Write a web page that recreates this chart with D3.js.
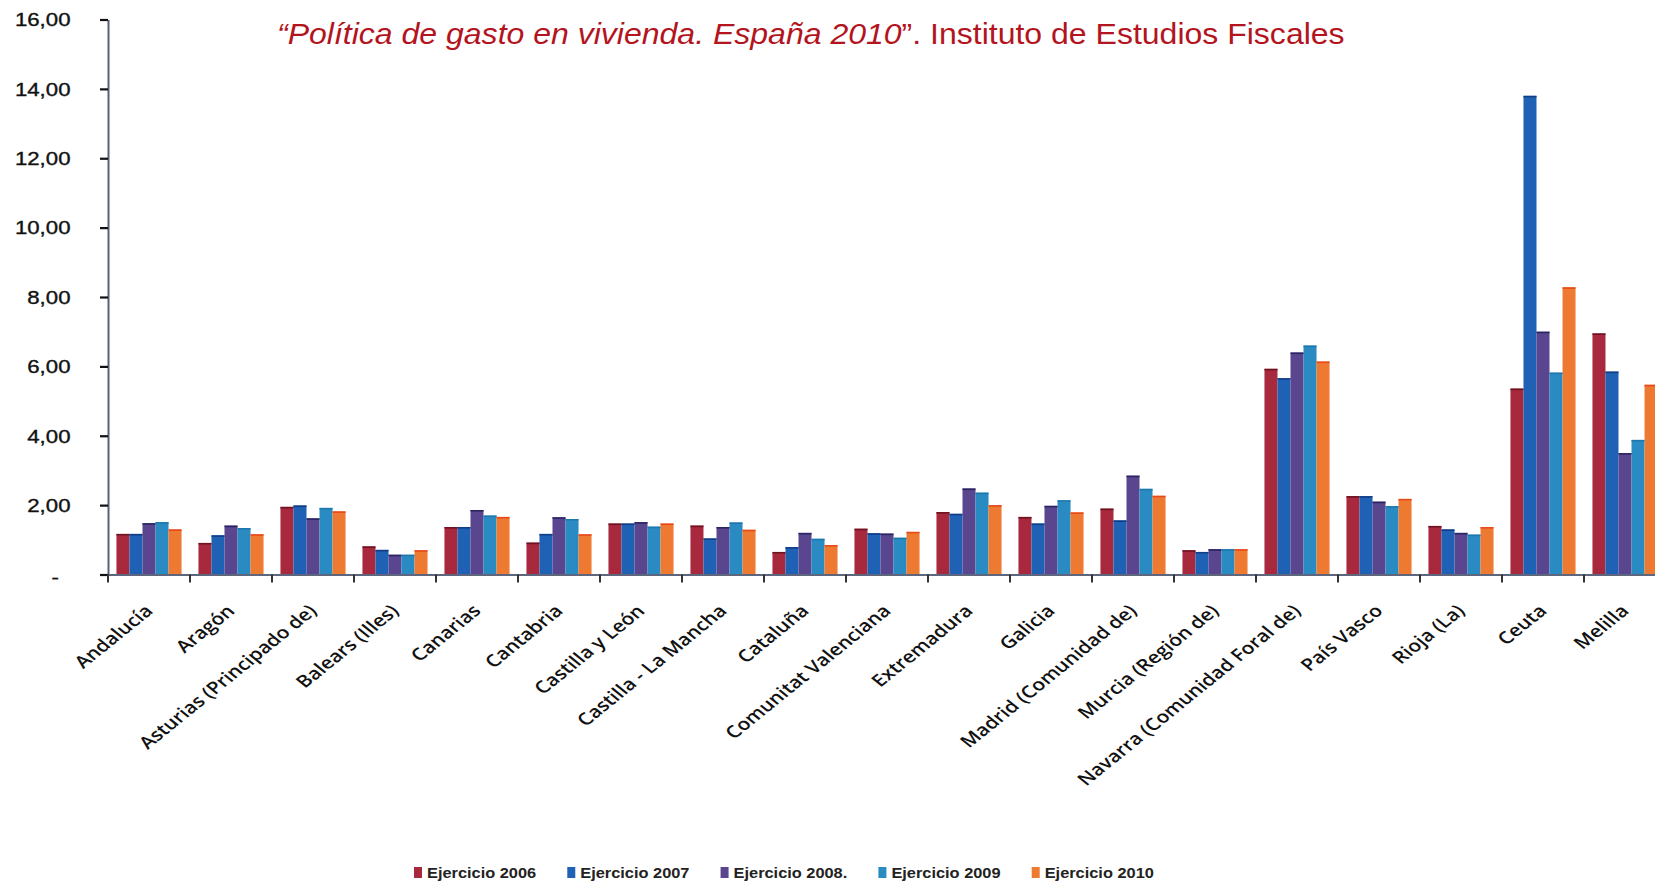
<!DOCTYPE html>
<html>
<head>
<meta charset="utf-8">
<script src="https://cdn.jsdelivr.net/npm/d3@7"></script>
<style>
  html, body { margin: 0; padding: 0; background: #ffffff; }
  svg { display: block; }
</style>
</head>
<body>
<svg id="chart" width="1655" height="883"></svg>
<script>
// ---------- data ----------
const categories = ["Andalucía","Aragón","Asturias (Principado de)","Balears (Illes)","Canarias","Cantabria","Castilla y León","Castilla - La Mancha","Cataluña","Comunitat Valenciana","Extremadura","Galicia","Madrid (Comunidad de)","Murcia (Región de)","Navarra (Comunidad Foral de)","País Vasco","Rioja (La)","Ceuta","Melilla"];
const seriesNames = ["Ejercicio 2006","Ejercicio 2007","Ejercicio 2008.","Ejercicio 2009","Ejercicio 2010"];
const v2006 = [1.17,0.91,1.95,0.81,1.37,0.92,1.47,1.41,0.65,1.32,1.80,1.66,1.90,0.70,5.93,2.26,1.40,5.36,6.95];
const v2007 = [1.17,1.13,1.99,0.71,1.37,1.17,1.47,1.04,0.79,1.19,1.75,1.47,1.56,0.65,5.66,2.26,1.30,13.80,5.85];
const v2008 = [1.48,1.41,1.62,0.57,1.86,1.65,1.51,1.37,1.20,1.18,2.48,1.98,2.85,0.73,6.40,2.10,1.20,7.00,3.50];
const v2009 = [1.51,1.34,1.92,0.57,1.70,1.60,1.38,1.50,1.03,1.06,2.36,2.14,2.47,0.73,6.60,1.97,1.15,5.82,3.88];
const v2010 = [1.30,1.16,1.82,0.70,1.66,1.16,1.47,1.29,0.85,1.23,2.00,1.79,2.27,0.73,6.14,2.18,1.37,8.28,5.47];
const yTicks = [0,2,4,6,8,10,12,14,16];
const titleItalic = "“Política de gasto en vivienda. España 2010";
const titleRest = "”. Instituto de Estudios Fiscales";

// ---------- styles ----------
const fills = ["#A8293D","#1F61B4","#5A468F","#2A8BC3","#EE7A32"];
const tops  = ["#6E1322","#123E86","#2B2463","#1F78AD","#E84A1E"];
const SX = 1.235; // horizontal stretch of the scanned original

const allValues = [v2006, v2007, v2008, v2009, v2010];
const table = categories.map((c, i) => ({cat: c, vals: allValues.map((arr, s) => ({s, v: arr[i]}))}));

const svg = d3.select("#chart");
svg.append("rect").attr("width", 1655).attr("height", 883).attr("fill", "#fff");

const left = 108, step = 82;
const x0 = d3.scaleBand().domain(categories).range([left, left + step * categories.length]).padding(0);
const x1 = d3.scaleBand().domain(d3.range(5)).range([0, x0.bandwidth()]).paddingInner(0).paddingOuter(0.65);
const y = d3.scaleLinear().domain([0, 16]).range([574.5, 19.5]);

// ---------- title ----------
const title = svg.append("text")
  .attr("font-family", "'Liberation Sans', Arial, sans-serif")
  .attr("font-size", 30)
  .attr("fill", "#B3141E");
title.append("tspan").attr("font-style", "italic").text(titleItalic);
title.append("tspan").text(titleRest);
const tLen = title.node().getComputedTextLength();
title.attr("transform", `translate(277,44) scale(${1068 / tLen},1)`);

// ---------- bars ----------
const groups = svg.append("g").selectAll("g").data(table).join("g")
  .attr("transform", d => `translate(${x0(d.cat)},0)`);
groups.selectAll("rect").data(d => d.vals).join("rect")
  .attr("x", d => x1(d.s))
  .attr("y", d => y(d.v))
  .attr("width", x1.bandwidth())
  .attr("height", d => y(0) - y(d.v))
  .attr("fill", d => fills[d.s]);
groups.selectAll("line").data(d => d.vals).join("line")
  .attr("x1", d => x1(d.s))
  .attr("x2", d => x1(d.s) + x1.bandwidth())
  .attr("y1", d => y(d.v) + 0.8)
  .attr("y2", d => y(d.v) + 0.8)
  .attr("stroke", d => tops[d.s])
  .attr("stroke-width", 1.6);

// ---------- y axis ----------
const fmt = d => d === 0 ? "-" : d.toFixed(2).replace(".", ",");
const yAxis = svg.append("g").attr("transform", `translate(${left},0)`)
  .call(d3.axisLeft(y).tickValues(yTicks).tickSize(8).tickSizeOuter(0).tickFormat(fmt));
yAxis.select(".domain").attr("stroke", "#55607a").attr("stroke-width", 2);
yAxis.selectAll(".tick line").attr("stroke", "#111").attr("stroke-width", 2.2);
yAxis.selectAll(".tick text")
  .attr("font-family", "'Liberation Sans', Arial, sans-serif")
  .attr("font-size", 18)
  .attr("fill", "#111")
  .attr("stroke", "#111")
  .attr("stroke-width", 0.35)
  .attr("text-anchor", "end")
  .attr("x", d => (d === 0 ? -49 : -37.5) / SX)
  .attr("dy", d => d === 0 ? "0.5em" : "0.35em")
  .attr("transform", `scale(${SX},1)`);

// ---------- x axis ----------
const xAxisG = svg.append("g");
xAxisG.append("line")
  .attr("x1", left).attr("x2", 1655)
  .attr("y1", y(0) + 0.5).attr("y2", y(0) + 0.5)
  .attr("stroke", "#5d667c").attr("stroke-width", 2);
const boundaries = categories.map(c => x0(c)).concat([x0(categories[categories.length - 1]) + x0.bandwidth()]);
xAxisG.selectAll("line.tk").data(boundaries).join("line")
  .attr("class", "tk")
  .attr("x1", d => d).attr("x2", d => d)
  .attr("y1", y(0)).attr("y2", y(0) + 8)
  .attr("stroke", "#333").attr("stroke-width", 2);

xAxisG.selectAll("text.lbl").data(categories).join("text")
  .attr("class", "lbl")
  .attr("font-family", "'Open Sans', 'Noto Sans', sans-serif")
  .attr("font-size", 17)
  .attr("font-weight", 600)
  .attr("fill", "#111")
  .attr("text-anchor", "end")
  .attr("transform", d => `translate(${x0(d) + x0.bandwidth() / 2 + 5},612) scale(${SX},1) rotate(-45)`)
  .text(d => d);

// ---------- legend ----------
const legend = svg.append("g");
let lx = 414;
seriesNames.forEach((name, i) => {
  legend.append("rect").attr("x", lx).attr("y", 867).attr("width", 8).attr("height", 11).attr("fill", fills[i]);
  const t = legend.append("text")
    .attr("font-family", "'Liberation Sans', Arial, sans-serif")
    .attr("font-size", 14)
    .attr("font-weight", "bold")
    .attr("fill", "#222")
    .text(name);
  const w = t.node().getComputedTextLength();
  const s = 1.17;
  t.attr("transform", `translate(${lx + 13},878) scale(${s},1)`);
  lx += 13 + w * s + 31;
});
</script>
</body>
</html>
